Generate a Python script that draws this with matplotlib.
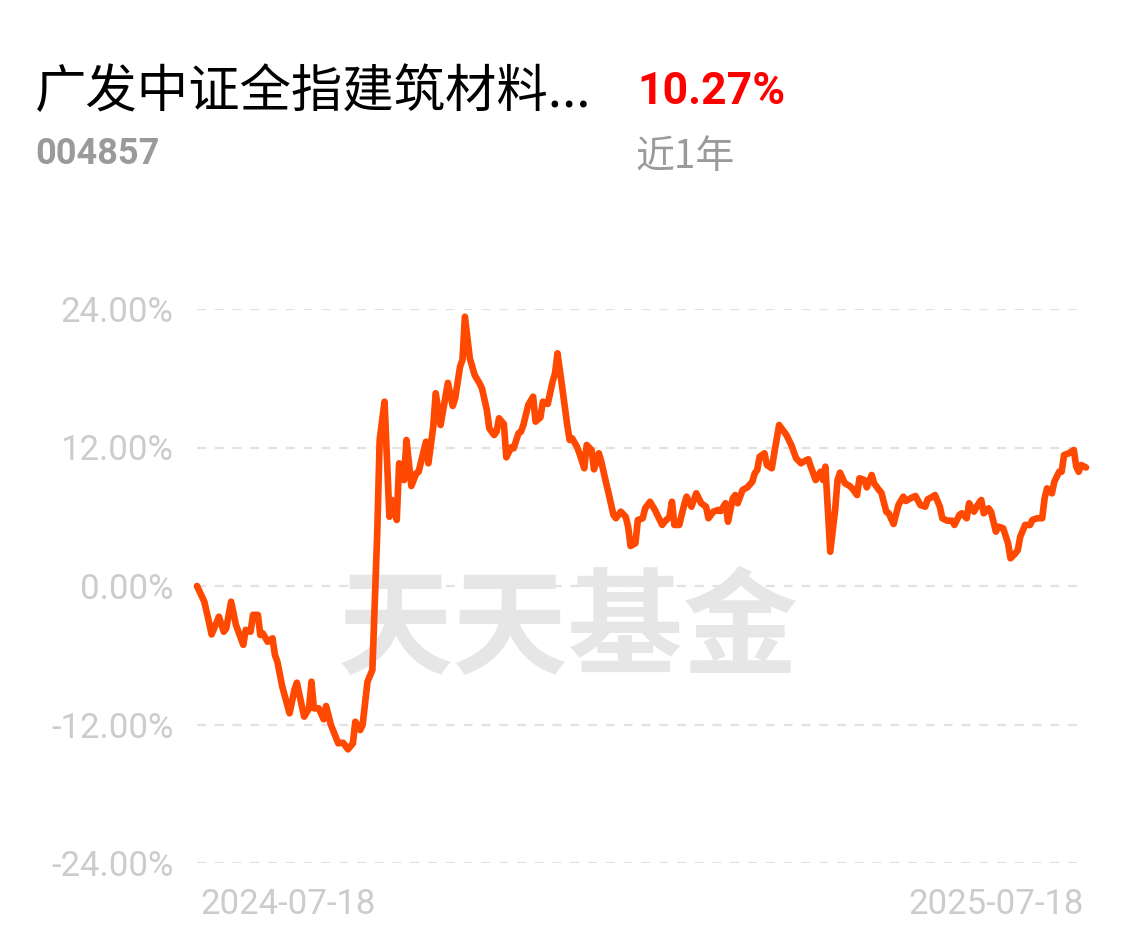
import matplotlib
matplotlib.use('Agg')
import matplotlib.pyplot as plt

plt.rcParams['font.family'] = ['Roboto', 'Noto Sans CJK SC', 'DejaVu Sans']

fund_name = '广发中证全指建筑材料...'
fund_code = '004857'
period_return = '10.27%'
period_label = '近1年'
start_label = '2024-07-18'
end_label = '2025-07-18'
watermark = '天天基金'

yticks = [24, 12, 0, -12, -24]
ytick_labels = ['24.00%', '12.00%', '0.00%', '-12.00%', '-24.00%']

# days since 2024-07-18 and cumulative return (%)
days = [0, 3, 5, 6, 9, 11, 12, 14, 16, 19, 20, 22, 23, 25, 26, 27, 29, 31, 32, 33,
        35, 38, 40, 41, 44, 46, 47, 48, 50, 52, 53, 55, 58, 60, 62, 64, 65, 67, 68, 70,
        72, 74, 75, 77, 79, 80, 82, 83, 85, 86, 88, 90, 91, 93, 94, 95, 97, 98, 100, 103,
        105, 106, 108, 109, 110, 112, 114, 116, 117, 119, 120, 122, 123, 124, 126, 127, 129, 130, 132, 133,
        134, 136, 138, 139, 141, 142, 144, 146, 147, 148, 150, 152, 153, 154, 156, 157, 159, 160, 162, 163,
        165, 166, 168, 169, 171, 172, 174, 176, 177, 178, 180, 181, 183, 184, 186, 188, 189, 191, 192, 194,
        195, 196, 198, 200, 201, 203, 204, 205, 207, 209, 210, 212, 214, 215, 217, 218, 220, 221, 222, 224,
        226, 228, 229, 230, 231, 233, 234, 236, 237, 239, 240, 242, 244, 246, 248, 249, 251, 252, 254, 256,
        257, 258, 260, 262, 263, 264, 266, 268, 269, 271, 272, 274, 275, 277, 278, 280, 281, 283, 284, 286,
        288, 290, 291, 293, 295, 297, 299, 300, 302, 303, 305, 306, 308, 310, 311, 313, 314, 316, 317, 319,
        321, 322, 323, 325, 326, 328, 329, 331, 333, 334, 336, 337, 338, 340, 342, 343, 345, 347, 348, 349,
        351, 352, 354, 355, 356, 358, 360, 361, 362, 363, 365]
returns = [0.0, -1.36, -3.2, -4.2, -2.66, -3.96, -3.67, -1.36, -3.38, -5.1, -3.8, -3.96, -2.5, -2.5, -4.25, -4.1, -4.83, -4.53, -5.98, -6.56,
           -8.72, -11.03, -9.01, -8.38, -11.32, -10.6, -8.29, -10.6, -10.6, -11.55, -10.4, -12.04, -13.63, -13.58, -14.15, -13.63, -11.76, -12.48, -12.04, -8.29,
           -7.28, 4.57, 12.65, 15.97, 6.0, 7.45, 5.72, 10.63, 9.18, 12.65, 8.66, 9.76, 9.9, 11.63, 12.5, 10.63, 13.8, 16.7, 13.95, 17.6,
           15.6, 16.26, 19.0, 19.6, 23.33, 19.73, 18.28, 17.56, 17.13, 15.25, 13.66, 13.08, 13.37, 14.53, 14.03, 11.15, 12.02, 11.93, 13.23, 13.37,
           13.95, 15.68, 16.4, 14.24, 14.61, 15.97, 15.77, 17.7, 18.43, 20.16, 17.13, 13.95, 12.65, 12.8, 12.07, 11.5, 10.2, 12.22, 11.78, 10.11,
           11.5, 10.77, 8.9, 8.03, 6.15, 5.87, 6.44, 6.0, 5.14, 3.47, 3.7, 5.72, 5.87, 6.73, 7.3, 6.59, 6.15, 5.29, 5.57, 6.0,
           7.3, 5.29, 5.29, 7.02, 7.74, 6.87, 7.45, 8.03, 7.17, 6.87, 5.87, 6.44, 6.59, 6.5, 7.17, 5.57, 7.6, 7.88, 7.17, 8.32,
           8.55, 9.04, 9.76, 10.05, 11.2, 11.5, 10.48, 10.2, 11.5, 13.95, 13.66, 13.08, 12.22, 11.06, 10.63, 10.77, 10.98, 10.34, 9.18, 9.9,
           9.18, 10.34, 2.97, 6.59, 9.18, 9.82, 8.9, 8.66, 8.46, 7.88, 9.33, 9.18, 8.55, 9.62, 8.9, 8.32, 8.08, 6.44, 6.3, 5.37,
           7.02, 7.74, 7.36, 7.6, 7.8, 7.02, 6.87, 7.51, 7.74, 7.88, 6.87, 5.87, 5.66, 5.66, 5.29, 6.15, 6.3, 5.87, 7.17, 6.44,
           7.17, 7.45, 6.3, 6.73, 6.44, 4.71, 5.14, 5.0, 3.7, 2.4, 2.83, 3.12, 4.27, 5.29, 5.29, 5.72, 5.87, 5.87, 7.6, 8.46,
           8.03, 9.04, 9.9, 9.9, 11.35, 11.5, 11.78, 10.34, 9.9, 10.48, 10.27]

W, H = 1138, 949
fig = plt.figure(figsize=(W / 100, H / 100), dpi=100)
fig.patch.set_facecolor('white')

# header
fig.text(35 / W, 1 - 92 / H, fund_name, fontsize=37, color='black',
         family=['Noto Sans CJK SC', 'DejaVu Sans'], ha='left', va='center')
fig.text(637 / W, 1 - 92 / H, period_return, fontsize=32, color='#ff0000',
         fontweight='bold', ha='left', va='center')
fig.text(35 / W, 1 - 154 / H, fund_code, fontsize=26, color='#9a9a9a',
         fontweight='bold', ha='left', va='center')
fig.text(635 / W, 1 - 157 / H, period_label, fontsize=28, color='#9a9a9a',
         family=['Noto Sans CJK SC', 'DejaVu Sans'], ha='left', va='center')

# plot area
x0, x1, ytop, ybot = 197, 1086, 309, 863
ax = fig.add_axes([x0 / W, (H - ybot) / H, (x1 - x0) / W, (ybot - ytop) / H])
ax.set_xlim(0, 365)
ax.set_ylim(-24, 24)
for s in ax.spines.values():
    s.set_visible(False)
ax.set_xticks([])
ax.set_yticks(yticks)
ax.set_yticklabels(ytick_labels)
ax.tick_params(axis='y', length=0, pad=17, labelsize=25, labelcolor='#cccccc')

for y in yticks:
    ax.axhline(y, color='#e2e2e2', lw=1.6, ls=(0, (4, 4)), zorder=1)

ax.text(0.418, 0.417, watermark, transform=ax.transAxes, fontsize=83,
        fontweight='bold', color='#e6e6e6', ha='center', va='center',
        family=['Noto Sans CJK SC', 'DejaVu Sans'], zorder=2)

ax.plot(days, returns, color='#ff4800', lw=4.8, solid_joinstyle='round',
        solid_capstyle='round', zorder=3, clip_on=False)

ax.text(3 / (x1 - x0), -42 / (ybot - ytop), start_label, transform=ax.transAxes,
        fontsize=25, color='#cccccc', ha='left', va='center')
ax.text(1 - 2 / (x1 - x0), -42 / (ybot - ytop), end_label, transform=ax.transAxes,
        fontsize=25, color='#cccccc', ha='right', va='center')

fig.savefig('out.png', dpi=100, facecolor='white')
